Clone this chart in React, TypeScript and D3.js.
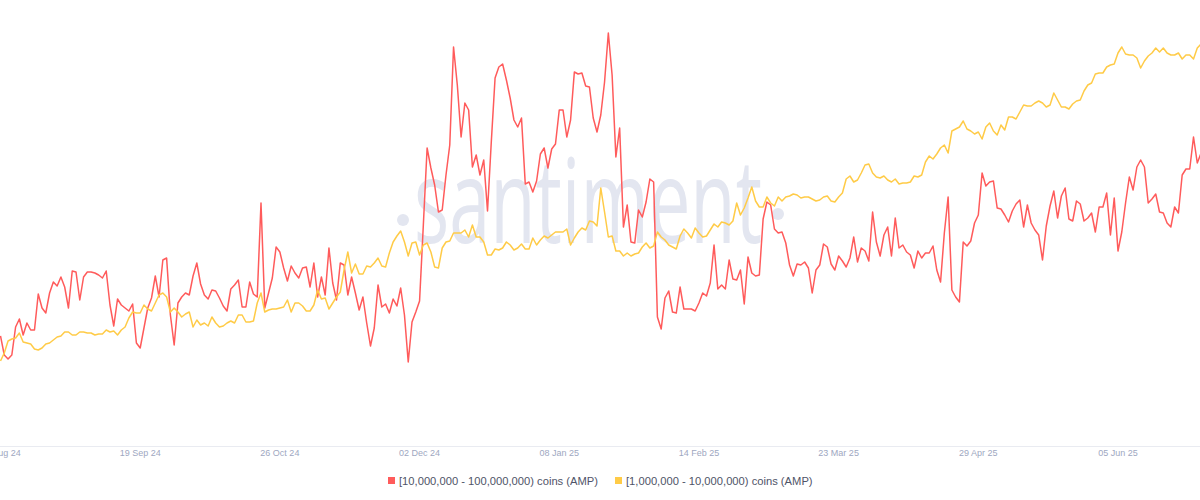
import React from "react";
import * as d3 from "d3";

// Daily points starting 13 Aug 2024 (relative units, no visible y axis)
const startDate = "2024-08-13";

const redSeries: number[] = [
  111,92,88,92,120,128,112,124,117,117,
  153,139,134,154,165,161,170,160,139,176,
  175,147,170,175,175,174,172,169,176,142,
  121,148,142,139,136,143,104,99,119,139,
  149,171,150,187,189,132,102,144,150,154,
  152,171,184,163,152,148,157,156,149,141,
  136,158,162,167,140,140,165,153,150,244,
  139,154,169,200,195,179,166,181,174,169,
  179,180,160,184,150,170,152,199,164,147,
  184,182,152,170,154,137,150,124,101,119,
  162,140,143,134,148,141,159,132,85,125,
  135,146,222,299,279,262,235,237,272,302,
  400,362,310,344,337,280,292,272,287,236,
  305,369,380,383,367,349,327,320,329,263,
  265,255,266,293,299,279,298,303,337,337,
  310,327,375,373,374,361,360,329,315,332,
  365,414,372,290,319,220,242,205,204,237,
  230,245,268,265,130,118,149,156,135,134,
  160,138,138,138,136,144,154,151,164,202,
  158,162,158,187,168,167,177,143,190,174,
  171,172,228,245,242,218,214,215,204,182,
  171,183,182,185,179,154,177,182,203,200,
  183,177,191,186,180,189,210,185,199,196,
  186,235,205,191,212,220,191,229,199,202,
  195,192,179,196,189,194,194,201,177,165,
  214,250,157,150,145,205,201,206,224,232,
  274,261,265,266,239,238,232,225,236,243,
  247,220,242,224,217,212,187,221,241,256,
  229,251,259,228,226,246,243,226,229,234,
  215,240,240,254,212,249,196,215,244,270,
  257,280,287,280,244,248,253,235,234,224,
  220,240,234,272,278,278,310,284,294,
];

const yellowSeries: number[] = [
  86,94,106,108,109,114,105,104,103,98,
  97,99,103,104,107,110,111,115,115,112,
  112,115,115,114,114,112,113,113,117,115,
  116,112,117,120,129,135,134,134,142,138,
  136,144,152,154,150,135,139,135,130,133,
  135,120,127,122,124,121,130,124,120,121,
  124,126,124,132,132,125,125,126,144,154,
  135,137,138,138,139,140,147,135,144,144,
  141,136,136,142,157,148,149,138,144,150,
  155,177,195,174,183,173,173,181,180,184,
  189,181,180,194,205,211,216,205,191,204,
  205,192,202,204,195,180,179,199,205,206,
  214,214,214,217,210,222,210,210,205,192,
  192,198,197,199,205,202,197,199,203,198,
  198,209,202,207,211,209,212,215,215,215,
  218,202,209,215,219,217,226,225,221,259,
  235,210,211,196,196,191,194,191,193,194,
  200,204,199,201,215,210,207,202,200,198,
  211,218,214,209,219,214,210,211,217,223,
  220,225,224,222,226,244,232,239,249,260,
  246,240,240,250,244,241,250,246,250,251,
  253,252,249,250,250,248,246,247,250,251,
  246,245,250,254,268,271,265,267,274,282,
  283,274,270,269,271,267,265,268,263,264,
  264,265,271,270,272,285,291,288,293,299,
  302,294,316,318,320,326,318,316,313,315,
  308,320,324,316,312,322,317,330,330,328,
  335,342,341,341,344,346,344,340,342,354,
  347,340,340,338,343,346,347,356,362,364,
  373,374,374,380,382,383,394,400,393,392,
  392,389,379,386,391,394,399,395,399,394,
  392,392,394,388,392,392,388,399,403,
];

const tickDates: string[] = [
  "2024-08-13","2024-09-19","2024-10-26","2024-12-02","2025-01-08",
  "2025-02-14","2025-03-23","2025-04-29","2025-06-05",
];

const seriesNames: string[] = [
  "[10,000,000 - 100,000,000) coins (AMP)",
  "[1,000,000 - 10,000,000) coins (AMP)",
];
const seriesColors: string[] = ["#ff5b5b", "#ffcb47"];

const W = 1200;
const H = 500;

export default function App() {
  const parse = d3.utcParse("%Y-%m-%d");
  const start = parse(startDate) as Date;
  const dates = redSeries.map((_, i) => d3.utcDay.offset(start, i));

  const x = d3
    .scaleUtc()
    .domain([start, d3.utcDay.offset(start, 296)])
    .range([0.5, 1118]);
  const y = d3.scaleLinear().domain([0, 420]).range([447, 27]);

  const line = d3
    .line<number>()
    .x((_, i) => x(dates[i]))
    .y((d) => y(d));

  const fmt = d3.utcFormat("%d %b %y");
  const ticks = tickDates.map((s) => parse(s) as Date);

  const font = "'Liberation Sans', Arial, sans-serif";

  return (
    <svg
      width={W}
      height={H}
      style={{ position: "absolute", left: 0, top: 0, background: "#fff" }}
    >
      <defs>
        <clipPath id="plot">
          <rect x={0} y={0} width={W} height={447} />
        </clipPath>
      </defs>
      {/* watermark */}
      <g fill="#e3e6f0">
        <circle cx={403} cy={220} r={6} />
        <text
          x={414}
          y={243}
          fontFamily="'Open Sans', sans-serif"
          fontWeight={400}
          fontSize={118}
          textLength={348}
          lengthAdjust="spacingAndGlyphs"
        >
          santiment
        </text>
        <circle cx={778} cy={214} r={6} />
      </g>
      {/* axis line */}
      <line x1={0} x2={W} y1={446.5} y2={446.5} stroke="#e9ebf1" strokeWidth={1} />
      {ticks.map((t, i) => (
        <text
          key={i}
          x={x(t)}
          y={456}
          textAnchor="middle"
          fontFamily={font}
          fontSize={9}
          fill="#9ea7bf"
        >
          {fmt(t)}
        </text>
      ))}
      <g clipPath="url(#plot)" fill="none" strokeWidth={1.5} strokeLinejoin="round">
        <path d={line(redSeries) || ""} stroke={seriesColors[0]} />
        <path d={line(yellowSeries) || ""} stroke={seriesColors[1]} />
      </g>
      {/* legend */}
      <g fontFamily={font} fontSize={11.2} fill="#4f5468">
        <rect x={388} y={477} width={7} height={7} fill={seriesColors[0]} />
        <text x={399} y={485}>{seriesNames[0]}</text>
        <rect x={615} y={477} width={7} height={7} fill={seriesColors[1]} />
        <text x={626} y={485}>{seriesNames[1]}</text>
      </g>
    </svg>
  );
}
